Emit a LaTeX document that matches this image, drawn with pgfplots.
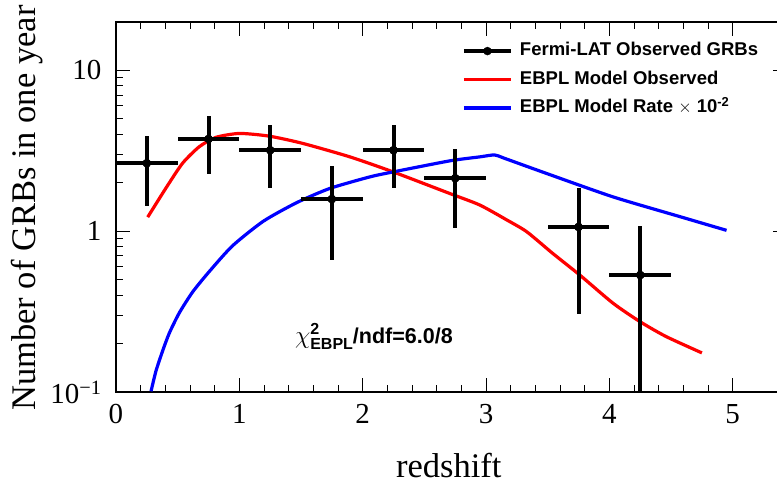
\documentclass[border=0pt]{standalone}
\usepackage{amsmath}
\usepackage{pgfplots}
\pgfplotsset{compat=1.18}
\usepackage{fontspec}
\setmainfont{Liberation Serif}
\newfontfamily\hel{Liberation Sans}
\begin{document}
\begin{tikzpicture}
\begin{axis}[
  at={(0,0)}, anchor=south west,
  scale only axis, width=671pt, height=370pt,
  xmin=0, xmax=5.44, ymode=log, ymin=0.1, ymax=19.9,
  xtick={0,1,2,3,4,5}, xticklabels={0,1,2,3,4,5},
  minor x tick num=4,
  ytick={0.1,1,10}, yticklabels={10\textsuperscript{−1},1,10},
  minor ytick={0.2,0.3,0.4,0.5,0.6,0.7,0.8,0.9,2,3,4,5,6,7,8,9,20},
  tick align=inside,
  major tick length=14pt, minor tick length=7pt,
  every tick/.style={black, line width=1pt},
  axis line style={line width=1.3pt},
  ticklabel style={font=\fontsize{29}{30}\selectfont},
  xticklabel style={yshift=-9pt},
  yticklabel style={xshift=-11pt},
  label style={font=\fontsize{34.5}{38}\selectfont},
  xlabel={redshift},
  xlabel style={at={(axis description cs:0.496,-0.2324)}, anchor=base},
  ylabel={Number of GRBs in one year},
  ylabel style={at={(axis description cs:-0.1326,0.497)}, anchor=center},
  legend style={at={(axis description cs:0.5156,0.945)}, anchor=north west,
    draw=none, fill=none, inner sep=0pt, outer sep=0pt,
    column sep=7pt, row sep=11pt,
    nodes={inner sep=0pt, text height=13.5pt, text depth=4pt, anchor=west},
    font=\hel\bfseries\fontsize{18.5}{20}\selectfont},
  legend cell align=left,
  clip mode=individual,
]
% data (legend entry)
\addplot[black, only marks, mark=*, mark size=4pt,
  legend image code/.code={\draw[black,line width=4pt] (0pt,0pt) -- (47pt,0pt); \fill[black] (23.5pt,0pt) circle (4pt);},
  error bars/.cd, x dir=both, x explicit, y dir=both, y explicit,
  error mark=none, error bar style={line width=4pt}]
  coordinates {
  (0.25,2.64) += (0.25,1.25) -= (0.25,1.21)
  (0.75,3.73) += (0.25,1.45) -= (0.25,1.47)
  (1.25,3.18) += (0.25,1.37) -= (0.25,1.33)
  (1.75,1.58) += (0.25,0.95) -= (0.25,0.92)
  (2.25,3.18) += (0.25,1.37) -= (0.25,1.33)
  (2.75,2.13) += (0.25,1.10) -= (0.25,1.09)
  (3.75,1.06) += (0.25,0.79) -= (0.25,0.755)
  (4.25,0.533) += (0.25,0.54) -= (0.25,0.50)
  };
\addlegendentry{Fermi-LAT Observed GRBs}
% red
\addplot[red, line width=3.2pt, smooth, no marks, tension=0.4,
  legend image code/.code={\draw[red,line width=3.5pt] (0pt,0pt) -- (47pt,0pt);}]
  coordinates {
  (0.257,1.22) (0.405,1.85) (0.54,2.64) (0.675,3.34) (0.81,3.82) (1.0,4.04)
  (1.24,3.89) (1.51,3.51) (1.896,2.89) (2.247,2.33) (2.707,1.71) (2.95,1.45)
  (3.17,1.17) (3.33,0.99) (3.54,0.727) (3.76,0.533) (4.03,0.356) (4.25,0.273)
  (4.46,0.221) (4.75,0.175)
  };
\addlegendentry{EBPL Model Observed}
% blue
\addplot[blue, line width=3.2pt, smooth, no marks, tension=0.4,
  legend image code/.code={\draw[blue,line width=3.5pt] (0pt,0pt) -- (47pt,0pt);}]
  coordinates {
  (0.284,0.101) (0.324,0.135) (0.378,0.18) (0.432,0.232) (0.513,0.31)
  (0.621,0.418) (0.756,0.56) (0.945,0.81) (1.194,1.15) (1.464,1.5)
  (1.734,1.84) (2.058,2.17) (2.247,2.33) (2.707,2.73) (2.95,2.89)
  (3.07,2.97) (3.15,2.83) (3.49,2.28) (4.03,1.63) (4.57,1.23) (4.95,1.01)
  };
\addlegendentry{EBPL Model Rate $\times$ 10\textsuperscript{-2}}
% data on top
\addplot[black, only marks, mark=*, mark size=4pt, forget plot,
  error bars/.cd, x dir=both, x explicit, y dir=both, y explicit,
  error mark=none, error bar style={line width=4pt}]
  coordinates {
  (0.25,2.64) += (0.25,1.25) -= (0.25,1.21)
  (0.75,3.73) += (0.25,1.45) -= (0.25,1.47)
  (1.25,3.18) += (0.25,1.37) -= (0.25,1.33)
  (1.75,1.58) += (0.25,0.95) -= (0.25,0.92)
  (2.25,3.18) += (0.25,1.37) -= (0.25,1.33)
  (2.75,2.13) += (0.25,1.10) -= (0.25,1.09)
  (3.75,1.06) += (0.25,0.79) -= (0.25,0.755)
  (4.25,0.533) += (0.25,0.54) -= (0.25,0.50)
  };
\node[anchor=base west, inner sep=0pt, font=\hel\bfseries\fontsize{21.5}{23}\selectfont]
  at (axis cs:1.45,0.2015) {\fontsize{25}{26}\selectfont$\chi$\rlap{\raisebox{9pt}{\fontsize{16}{17}\selectfont 2}}\raisebox{-6.5pt}{\fontsize{16}{17}\selectfont EBPL}\fontsize{21.5}{23}\selectfont/ndf=6.0/8};
\end{axis}
\pgfresetboundingbox
\useasboundingbox (-116pt,-94pt) rectangle (661pt,392pt);
\end{tikzpicture}
\end{document}
